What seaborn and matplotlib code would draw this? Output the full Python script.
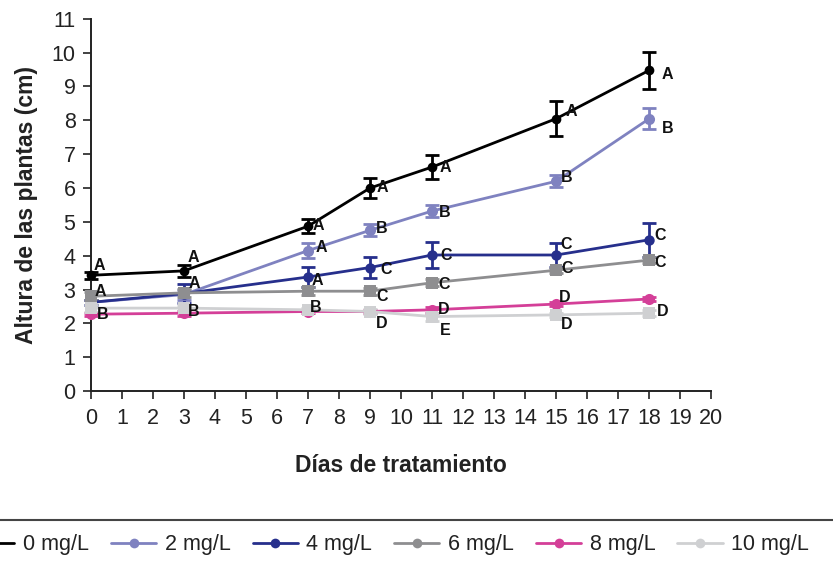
import numpy as np
import pandas as pd
import seaborn as sns
import matplotlib.pyplot as plt
from matplotlib.lines import Line2D

# --- data ---
days = [0, 3, 7, 9, 11, 15, 18]
treatments = ['0 mg/L', '2 mg/L', '4 mg/L', '6 mg/L', '8 mg/L', '10 mg/L']

h_0 = [3.42, 3.55, 4.87, 6.00, 6.62, 8.05, 9.48]
h_2 = [2.62, 2.85, 4.15, 4.75, 5.32, 6.20, 8.05]
h_4 = [2.62, 2.88, 3.37, 3.65, 4.02, 4.02, 4.47]
h_6 = [2.80, 2.90, 2.95, 2.95, 3.20, 3.57, 3.87]
h_8 = [2.27, 2.30, 2.35, 2.35, 2.40, 2.57, 2.72]
h_10 = [2.45, 2.45, 2.40, 2.35, 2.20, 2.25, 2.30]

e_0 = [0.10, 0.18, 0.20, 0.30, 0.35, 0.52, 0.55]
e_2 = [0.08, 0.15, 0.22, 0.18, 0.18, 0.18, 0.30]
e_4 = [0.08, 0.28, 0.30, 0.32, 0.38, 0.35, 0.50]
e_6 = [0.12, 0.12, 0.12, 0.10, 0.10, 0.08, 0.10]
e_8 = [0.05, 0.07, 0.05, 0.05, 0.08, 0.05, 0.05]
e_10 = [0.10, 0.10, 0.05, 0.08, 0.12, 0.05, 0.08]

letters_0 = ['A', 'A', 'A', 'A', 'A', 'A', 'A']
letters_2 = [None, None, 'A', 'B', 'B', 'B', 'B']
letters_4 = [None, 'A', 'A', 'C', 'C', 'C', 'C']
letters_6 = ['A', None, None, 'C', 'C', 'C', 'C']
letters_8 = ['B', 'B', None, None, 'D', 'D', None]
letters_10 = [None, None, 'B', 'D', 'E', 'D', 'D']

heights = [h_0, h_2, h_4, h_6, h_8, h_10]
errors = [e_0, e_2, e_4, e_6, e_8, e_10]
letters = [letters_0, letters_2, letters_4, letters_6, letters_8, letters_10]

# --- style ---
colors = ['#000000', '#7f82c0', '#262f8c', '#8e8e90', '#d43f98', '#cfd0d2']
markers = ['o', 'o', 'o', 's', 'o', 's']
marker_sizes = [7, 8, 7.5, 8, 8, 9]
# where each letter sits relative to its point, in pixels (dx, dy up)
offsets_0 = [(9, 10), (9, 13), (10, 1), (12, 0), (13, 0), (15, 7), (18, -4)]
offsets_2 = [(0, 0), (0, 0), (13, 3), (12, 2), (13, -1), (10, 4), (18, -10)]
offsets_4 = [(0, 0), (10, 10), (9, -4), (16, -2), (14, -1), (10, 10), (11, 4)]
offsets_6 = [(10, 5), (0, 0), (0, 0), (12, -5), (12, -2), (11, 2), (11, -2)]
offsets_8 = [(12, 0), (10, 2), (0, 0), (0, 0), (12, 0), (8, 7), (0, 0)]
offsets_10 = [(0, 0), (0, 0), (8, 2), (12, -12), (13, -14), (10, -10), (13, 2)]
offsets = [offsets_0, offsets_2, offsets_4, offsets_6, offsets_8, offsets_10]

rows = []
for t, hs in zip(treatments, heights):
    for d, h in zip(days, hs):
        rows.append({'Día': d, 'Altura': h, 'Tratamiento': t})
df = pd.DataFrame(rows)

sns.set_style('white')
plt.rcParams['font.family'] = ['Liberation Sans', 'DejaVu Sans']

fig = plt.figure(figsize=(8.33, 5.70), dpi=100)
ax = fig.add_axes([0.109, 0.314, 0.745, 0.653])

# plot from the light series up so the dark lines sit on top
for i in reversed(range(len(treatments))):
    sub = df[df['Tratamiento'] == treatments[i]]
    eb = ax.errorbar(days, heights[i], yerr=errors[i], fmt='none', ecolor=colors[i],
                     elinewidth=2, capsize=5, capthick=2, zorder=2 + i)
    for art in eb.lines[1] + eb.lines[2]:
        art.set_clip_on(False)
    sns.lineplot(data=sub, x='Día', y='Altura', color=colors[i], marker=markers[i],
                 markersize=marker_sizes[i], markeredgewidth=0, linewidth=2,
                 ax=ax, zorder=3 + i, legend=False, clip_on=False)

for i in range(len(treatments)):
    for d, h, lab, off in zip(days, heights[i], letters[i], offsets[i]):
        if lab is None:
            continue
        ax.annotate(lab, (d, h), xytext=off, textcoords='offset pixels',
                    fontsize=11.5, fontweight='bold', color='#111111',
                    ha='center', va='center', zorder=20)

ax.set_xlim(0, 20)
ax.set_ylim(0, 11)
ax.set_xticks(range(0, 21))
ax.set_yticks(range(0, 12))
ax.tick_params(axis='both', which='both', direction='out', length=6, width=1.2,
               color='#222222', labelsize=15.5, labelcolor='#222222', left=True, bottom=True)
ax.tick_params(axis='x', pad=6)
ax.tick_params(axis='y', pad=5)
for s in ['top', 'right']:
    ax.spines[s].set_visible(False)
for s in ['left', 'bottom']:
    ax.spines[s].set_color('#222222')
    ax.spines[s].set_linewidth(1.4)
ax.set_xlabel('Días de tratamiento', fontsize=16.5, fontweight='bold', labelpad=18,
              color='#222222')
ax.set_ylabel('Altura de las plantas (cm)', fontsize=16.5, fontweight='bold', labelpad=10,
              color='#222222')

# legend band at the bottom, cut off on the left like the source
fig.add_artist(Line2D([0, 1], [0.088, 0.088], transform=fig.transFigure,
                      color='#444444', linewidth=1.5))
handles = [Line2D([0], [0], color=c, marker='o', markersize=7, linewidth=2,
                  markeredgewidth=0) for c in colors]
handles[0] = Line2D([0], [0], color=colors[0], linewidth=2)
fig.legend(handles, treatments, loc='center left', bbox_to_anchor=(-0.037, 0.044),
           ncol=6, frameon=False, fontsize=15.5, handlelength=2.1, columnspacing=1.02,
           handletextpad=0.4, borderpad=0, borderaxespad=0, labelcolor='#222222')

fig.savefig('out.png', dpi=100)
